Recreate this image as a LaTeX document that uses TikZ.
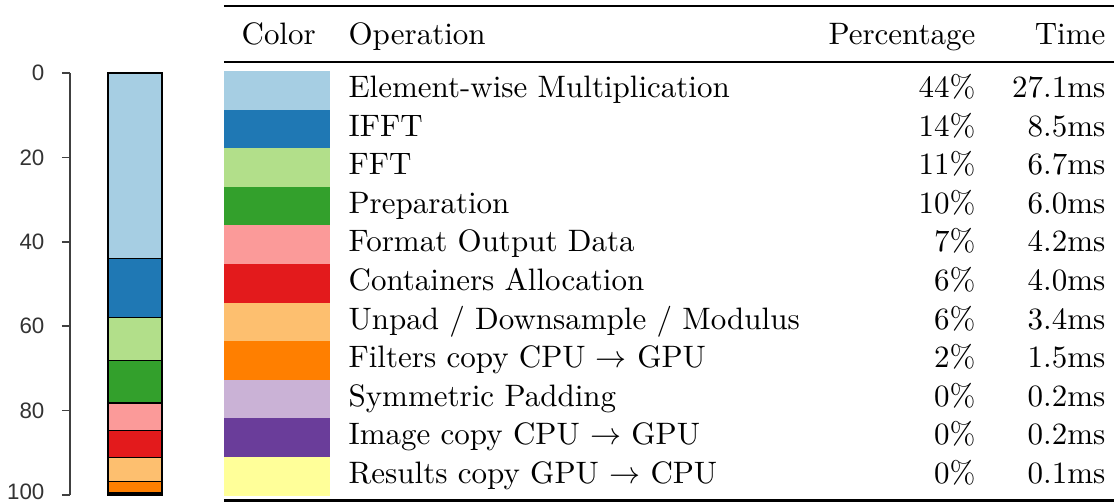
\documentclass[tikz,border=0pt]{standalone}
\usepackage{fontspec}
\usepackage{amsmath}
\newfontfamily\axisfont{Liberation Sans}
\usetikzlibrary{positioning}

% Paired palette
\definecolor{pairA}{HTML}{A6CEE3}
\definecolor{pairB}{HTML}{1F78B4}
\definecolor{pairC}{HTML}{B2DF8A}
\definecolor{pairD}{HTML}{33A02C}
\definecolor{pairE}{HTML}{FB9A99}
\definecolor{pairF}{HTML}{E31A1C}
\definecolor{pairG}{HTML}{FDBF6F}
\definecolor{pairH}{HTML}{FF7F00}
\definecolor{pairI}{HTML}{CAB2D6}
\definecolor{pairJ}{HTML}{6A3D9A}
\definecolor{pairK}{HTML}{FFFF99}

\tikzset{
  axisline/.style={draw=black!75, line width=0.5pt},
  ticklabel/.style={font=\axisfont\fontsize{7.2}{8}\selectfont, text=black!80, anchor=east, inner sep=0pt},
  segment/.style={draw=black, line width=0.35pt},
  cell/.style={inner sep=0pt, font=\fontsize{10}{12}\selectfont},
  heavyrule/.style={line width=0.8pt},
  lightrule/.style={line width=0.5pt}
}

\begin{document}
\begin{tikzpicture}[x=0.3226pt, y=-0.3226pt]
    \useasboundingbox (0,0) rectangle (1114,502);

    % Axis
    \draw[axisline] (70,73) -- (70,495);
    \foreach \v in {0,20,...,100} {
        \draw[axisline] (62,{73+4.22*\v}) -- (70,{73+4.22*\v});
        \node[ticklabel] (tick\v) at (45,{min(73+4.22*\v,492)}) {\v};
    }

    % Stacked bar
    \foreach \c/\a/\b in {pairA/0/44, pairB/44/58, pairC/58/68.2, pairD/68.2/78.2,
                          pairE/78.2/84.8, pairF/84.8/91.2, pairG/91.2/96.9, pairH/96.9/99.3,
                          pairI/99.3/99.6, pairJ/99.6/99.8, pairK/99.8/100}
        \filldraw[segment, fill=\c] (108,{73+4.22*\a}) rectangle (162,{73+4.22*\b});

    % Table rules
    \draw[heavyrule] (224,6) -- (1114,6);
    \draw[lightrule] (224,62) -- (1114,62);
    \draw[heavyrule] (224,500.5) -- (1114,500.5);

    % Header
    \node[cell, anchor=base west] (hcolor) at (241,45) {Color};
    \node[cell, anchor=base west] (hop) at (348,45) {Operation};
    \node[cell, anchor=base east] (hpc) at (976,45) {Percentage};
    \node[cell, anchor=base east] (htime) at (1106,45) {Time};

    % Rows
    \foreach \c/\op/\pc/\t [count=\i from 0] in {
        pairA/{Element-wise Multiplication}/44/27.1,
        pairB/{IFFT}/14/8.5,
        pairC/{FFT}/11/6.7,
        pairD/{Preparation}/10/6.0,
        pairE/{Format Output Data}/7/4.2,
        pairF/{Containers Allocation}/6/4.0,
        pairG/{Unpad / Downsample / Modulus}/6/3.4,
        pairH/{Filters copy CPU $\rightarrow$ GPU}/2/1.5,
        pairI/{Symmetric Padding}/0/0.2,
        pairJ/{Image copy CPU $\rightarrow$ GPU}/0/0.2,
        pairK/{Results copy GPU $\rightarrow$ CPU}/0/0.1} {
        \fill[\c] (224,{71+38.6*\i}) rectangle (330,{71+38.6*(\i+1)});
        \node[cell, anchor=base west] (op\i) at (348,{97.5+38.6*\i}) {\op};
        \node[cell, anchor=base east] (pc\i) at (976,{97.5+38.6*\i}) {\pc\%};
        \node[cell, anchor=base east] (tm\i) at (1106,{97.5+38.6*\i}) {\t ms};
    }
\end{tikzpicture}
\end{document}
